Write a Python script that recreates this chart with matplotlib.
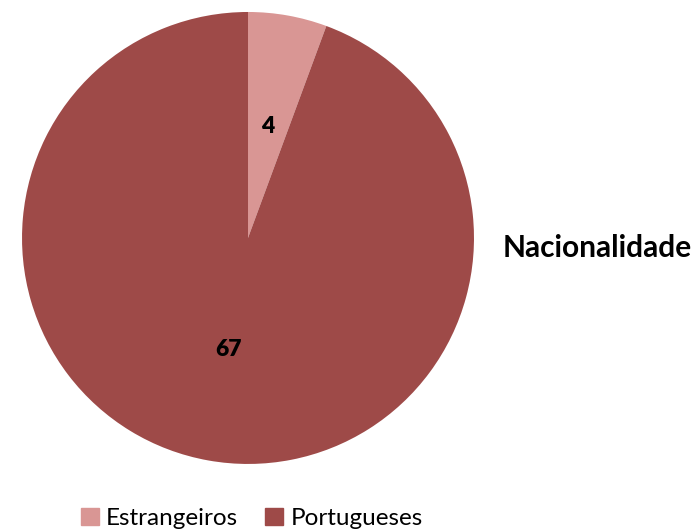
import matplotlib.pyplot as plt
from matplotlib.patches import Patch

plt.rcParams['font.family'] = ['Lato', 'DejaVu Sans']

categorias = ['Estrangeiros', 'Portugueses']
valores = [4, 67]
cores = ['#D99694', '#9E4A48']

fig = plt.figure(figsize=(6.99, 5.30), dpi=100)
ax = fig.add_axes([0.0315, 0.1245, 0.6466, 0.853])

wedges, textos, autotextos = ax.pie(
    valores, colors=cores, startangle=90, counterclock=False,
    autopct=lambda p: f'{round(p * sum(valores) / 100):.0f}',
    pctdistance=0.5, radius=1,
    textprops={'fontsize': 16.5, 'fontweight': 'heavy', 'color': 'black'})
ax.set_xlim(-1, 1)
ax.set_ylim(-1, 1)
ax.set_aspect('equal')

# titulo a direita
fig.text(0.855, 0.532, 'Nacionalidade', fontsize=21.5, fontweight='bold',
         ha='center', va='center')

# legenda em baixo
handles = [Patch(color=c, label=l) for c, l in zip(cores, categorias)]
fig.legend(handles=handles, loc='center', bbox_to_anchor=(0.36, 0.022),
           ncol=2, frameon=False, fontsize=17.5, handlelength=0.75,
           handleheight=0.75, handletextpad=0.3, columnspacing=1.1,
           borderpad=0.1)

fig.savefig('out.png', dpi=100)
